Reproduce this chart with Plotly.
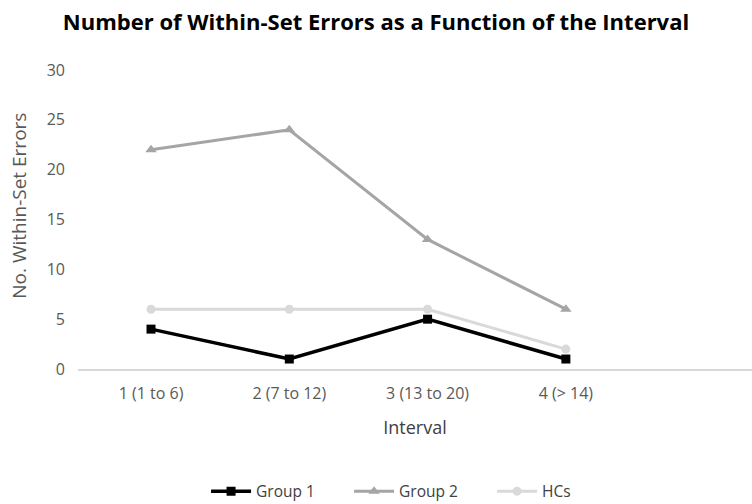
import plotly.graph_objects as go

categories = ["1 (1 to 6)", "2 (7 to 12)", "3 (13 to 20)", "4 (> 14)"]
group1 = [4, 1, 5, 1]
group2 = [22, 24, 13, 6]
hcs = [6, 6, 6, 2]

xpos = list(range(len(categories)))
FONT = "Open Sans, Lato, sans-serif"

fig = go.Figure()
fig.add_trace(go.Scatter(
    x=xpos, y=group1, name="Group 1", mode="lines+markers",
    line=dict(color="#000000", width=3.5),
    marker=dict(symbol="square", size=9, color="#000000"),
))
fig.add_trace(go.Scatter(
    x=xpos, y=group2, name="Group 2", mode="lines+markers",
    line=dict(color="#A5A5A5", width=3),
    marker=dict(symbol="triangle-up", size=10, color="#A5A5A5"),
))
fig.add_trace(go.Scatter(
    x=xpos, y=hcs, name="HCs", mode="lines+markers",
    line=dict(color="#D9D9D9", width=3),
    marker=dict(symbol="circle", size=9, color="#D9D9D9"),
))

fig.update_layout(
    width=752, height=504,
    margin=dict(l=78, r=0, t=70, b=135, autoexpand=False),
    paper_bgcolor="white", plot_bgcolor="white",
    font=dict(family=FONT, color="#595959"),
    title=dict(
        text="<b>Number of Within-Set Errors as a Function of the Interval</b>",
        x=0.5, xref="container", xanchor="center", y=0.955, yanchor="middle",
        font=dict(size=22, color="#000000", family=FONT),
    ),
    xaxis=dict(
        tickvals=xpos, ticktext=categories,
        range=[-0.528, 4.346],
        showgrid=False, zeroline=False, automargin=False,
        showline=True, linecolor="#D9D9D9", linewidth=1.5,
        ticks="", tickfont=dict(size=16, color="#595959"),
        ticklabelstandoff=9,
        title=dict(text="Interval", font=dict(size=18, color="#404040"), standoff=18),
    ),
    yaxis=dict(
        range=[0, 30], tickvals=[0, 5, 10, 15, 20, 25, 30],
        showgrid=False, zeroline=False, showline=False, automargin=False,
        ticks="", tickfont=dict(size=16, color="#595959"),
        ticklabelstandoff=12,
    ),
    legend=dict(
        orientation="h", x=0.19, xanchor="left", y=-0.41, yanchor="middle",
        font=dict(size=15.5, color="#404040"),
        itemwidth=40, entrywidth=88, entrywidthmode="pixels",
    ),
    annotations=[dict(
        text="No. Within-Set Errors", textangle=-90,
        xref="paper", yref="paper", x=-0.088, y=0.545,
        xanchor="center", yanchor="middle", showarrow=False,
        font=dict(size=19, color="#595959", family=FONT),
    )],
)

fig.write_html("out.html")
